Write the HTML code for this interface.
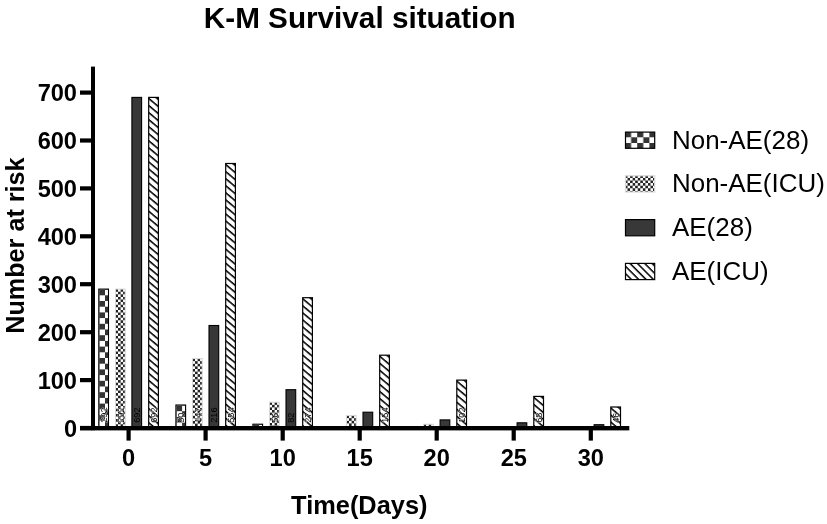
<!DOCTYPE html>
<html><head><meta charset="utf-8"><title>K-M Survival situation</title>
<style>
html,body{margin:0;padding:0;background:#fff;}
body{width:827px;height:524px;overflow:hidden;}
svg{display:block;font-family:"Liberation Sans",Arial,sans-serif;}
.b{font-weight:bold;}
</style></head><body>
<svg width="827" height="524" viewBox="0 0 827 524">
<defs>
<pattern id="p1" x="0.5" y="0.5" width="11.4" height="11.4" patternUnits="userSpaceOnUse">
<rect width="11.4" height="11.4" fill="#fff"/>
<rect x="0" y="0" width="5.7" height="5.7" fill="#333"/>
<rect x="5.7" y="5.7" width="5.7" height="5.7" fill="#333"/>
</pattern>
<pattern id="p2" x="0" y="0" width="5.1" height="5.2" patternUnits="userSpaceOnUse">
<rect width="5.1" height="5.2" fill="#fff"/>
<rect x="0" y="0" width="2.55" height="2.6" fill="#222"/>
<rect x="2.55" y="2.6" width="2.55" height="2.6" fill="#222"/>
</pattern>
<pattern id="p4" x="0" y="0" width="5.4" height="5.4" patternUnits="userSpaceOnUse" patternTransform="rotate(40)">
<rect width="5.4" height="5.4" fill="#fff"/>
<rect x="0" y="0" width="5.4" height="1.55" fill="#000"/>
</pattern>
<pattern id="l1" x="625" y="131.6" width="12.2" height="11.4" patternUnits="userSpaceOnUse">
<rect width="12.2" height="11.4" fill="#fff"/>
<rect x="0" y="0" width="6.1" height="5.7" fill="#333"/>
<rect x="6.1" y="5.7" width="6.1" height="5.7" fill="#333"/>
</pattern>
<pattern id="l2" x="625" y="175.3" width="5.1" height="5.2" patternUnits="userSpaceOnUse">
<rect width="5.1" height="5.2" fill="#fff"/>
<rect x="0" y="0" width="2.55" height="2.6" fill="#222"/>
<rect x="2.55" y="2.6" width="2.55" height="2.6" fill="#222"/>
</pattern>
<pattern id="l4" x="0" y="0" width="5.2" height="5.2" patternUnits="userSpaceOnUse" patternTransform="rotate(45)">
<rect width="5.2" height="5.2" fill="#fff"/>
<rect x="0" y="0" width="5.2" height="1.5" fill="#000"/>
</pattern>
</defs>
<rect width="827" height="524" fill="#fff"/>

<text class="b" x="359.7" y="27.6" font-size="29.7" text-anchor="middle" fill="#000">K-M Survival situation</text>
<text class="b" transform="translate(24.2,245.6) rotate(-90)" font-size="25.2" text-anchor="middle" fill="#000">Number at risk</text>
<text class="b" x="359.3" y="514" font-size="25.4" text-anchor="middle" fill="#000">Time(Days)</text>
<rect transform="translate(98.8,289.1)" width="9.7" height="138.9" fill="url(#p1)" stroke="#000" stroke-width="1.1"/>
<text transform="translate(107.0,422.8) rotate(-90)" font-size="9.2" fill="#000" stroke="#fff" stroke-width="0.6" paint-order="stroke">292</text>
<rect transform="translate(115.5,289.1)" width="9.7" height="138.9" fill="url(#p2)" stroke="#d8d8d8" stroke-width="1"/>
<text transform="translate(123.6,422.8) rotate(-90)" font-size="9.2" fill="#000" stroke="#fff" stroke-width="0.6" paint-order="stroke">292</text>
<rect transform="translate(131.9,97.4)" width="9.7" height="330.6" fill="#383838" stroke="#000" stroke-width="1.1"/>
<text transform="translate(140.1,422.8) rotate(-90)" font-size="9.2" fill="#000">692</text>
<rect transform="translate(148.7,97.4)" width="9.7" height="330.6" fill="url(#p4)" stroke="#000" stroke-width="1.2"/>
<text transform="translate(156.8,422.8) rotate(-90)" font-size="9.2" fill="#000" stroke="#fff" stroke-width="0.6" paint-order="stroke">692</text>
<rect transform="translate(175.9,405.0)" width="9.7" height="23.0" fill="url(#p1)" stroke="#000" stroke-width="1.1"/>
<text transform="translate(184.0,422.8) rotate(-90)" font-size="9.2" fill="#000" stroke="#fff" stroke-width="0.6" paint-order="stroke">50</text>
<rect transform="translate(192.5,358.6)" width="9.7" height="69.4" fill="url(#p2)" stroke="#d8d8d8" stroke-width="1"/>
<text transform="translate(200.6,422.8) rotate(-90)" font-size="9.2" fill="#000" stroke="#fff" stroke-width="0.6" paint-order="stroke">147</text>
<rect transform="translate(209.0,325.5)" width="9.7" height="102.5" fill="#383838" stroke="#000" stroke-width="1.1"/>
<text transform="translate(217.1,422.8) rotate(-90)" font-size="9.2" fill="#000">216</text>
<rect transform="translate(225.7,163.5)" width="9.7" height="264.5" fill="url(#p4)" stroke="#000" stroke-width="1.2"/>
<text transform="translate(233.8,422.8) rotate(-90)" font-size="9.2" fill="#000" stroke="#fff" stroke-width="0.6" paint-order="stroke">554</text>
<rect transform="translate(252.9,424.2)" width="9.7" height="3.8" fill="url(#p1)" stroke="#000" stroke-width="1.1"/>
<rect transform="translate(269.5,402.2)" width="9.7" height="25.8" fill="url(#p2)" stroke="#d8d8d8" stroke-width="1"/>
<text transform="translate(277.7,422.8) rotate(-90)" font-size="9.2" fill="#000" stroke="#fff" stroke-width="0.6" paint-order="stroke">56</text>
<rect transform="translate(286.0,389.7)" width="9.7" height="38.3" fill="#383838" stroke="#000" stroke-width="1.1"/>
<text transform="translate(294.2,422.8) rotate(-90)" font-size="9.2" fill="#000">82</text>
<rect transform="translate(302.7,297.7)" width="9.7" height="130.3" fill="url(#p4)" stroke="#000" stroke-width="1.2"/>
<text transform="translate(310.9,422.8) rotate(-90)" font-size="9.2" fill="#000" stroke="#fff" stroke-width="0.6" paint-order="stroke">274</text>
<rect transform="translate(346.5,415.6)" width="9.7" height="12.4" fill="url(#p2)" stroke="#d8d8d8" stroke-width="1"/>
<rect transform="translate(363.0,412.2)" width="9.7" height="15.8" fill="#383838" stroke="#000" stroke-width="1.1"/>
<rect transform="translate(379.7,355.2)" width="9.7" height="72.8" fill="url(#p4)" stroke="#000" stroke-width="1.2"/>
<text transform="translate(387.9,422.8) rotate(-90)" font-size="9.2" fill="#000" stroke="#fff" stroke-width="0.6" paint-order="stroke">154</text>
<rect transform="translate(423.6,424.2)" width="9.7" height="3.8" fill="url(#p2)" stroke="#d8d8d8" stroke-width="1"/>
<rect transform="translate(440.1,419.9)" width="9.7" height="8.1" fill="#383838" stroke="#000" stroke-width="1.1"/>
<rect transform="translate(456.8,380.1)" width="9.7" height="47.9" fill="url(#p4)" stroke="#000" stroke-width="1.2"/>
<text transform="translate(464.9,422.8) rotate(-90)" font-size="9.2" fill="#000" stroke="#fff" stroke-width="0.6" paint-order="stroke">102</text>
<rect transform="translate(517.1,422.8)" width="9.7" height="5.2" fill="#383838" stroke="#000" stroke-width="1.1"/>
<rect transform="translate(533.8,396.4)" width="9.7" height="31.6" fill="url(#p4)" stroke="#000" stroke-width="1.2"/>
<text transform="translate(541.9,422.8) rotate(-90)" font-size="9.2" fill="#000" stroke="#fff" stroke-width="0.6" paint-order="stroke">68</text>
<rect transform="translate(594.1,424.7)" width="9.7" height="3.3" fill="#383838" stroke="#000" stroke-width="1.1"/>
<rect transform="translate(610.8,407.0)" width="9.7" height="21.0" fill="url(#p4)" stroke="#000" stroke-width="1.2"/>
<text transform="translate(619.0,422.8) rotate(-90)" font-size="9.2" fill="#000" stroke="#fff" stroke-width="0.6" paint-order="stroke">46</text>
<rect x="91" y="66.6" width="4" height="363.6" fill="#000"/>
<rect x="80" y="426.0" width="549.3" height="4.4" fill="#000"/>
<rect x="80" y="425.9" width="12" height="4.2" fill="#000"/>
<text class="b" x="77" y="436.5" font-size="23.6" text-anchor="end" fill="#000">0</text>
<rect x="80" y="378.0" width="12" height="4.2" fill="#000"/>
<text class="b" x="77" y="388.6" font-size="23.6" text-anchor="end" fill="#000">100</text>
<rect x="80" y="330.1" width="12" height="4.2" fill="#000"/>
<text class="b" x="77" y="340.7" font-size="23.6" text-anchor="end" fill="#000">200</text>
<rect x="80" y="282.1" width="12" height="4.2" fill="#000"/>
<text class="b" x="77" y="292.7" font-size="23.6" text-anchor="end" fill="#000">300</text>
<rect x="80" y="234.2" width="12" height="4.2" fill="#000"/>
<text class="b" x="77" y="244.8" font-size="23.6" text-anchor="end" fill="#000">400</text>
<rect x="80" y="186.3" width="12" height="4.2" fill="#000"/>
<text class="b" x="77" y="196.9" font-size="23.6" text-anchor="end" fill="#000">500</text>
<rect x="80" y="138.4" width="12" height="4.2" fill="#000"/>
<text class="b" x="77" y="149.0" font-size="23.6" text-anchor="end" fill="#000">600</text>
<rect x="80" y="90.5" width="12" height="4.2" fill="#000"/>
<text class="b" x="77" y="101.1" font-size="23.6" text-anchor="end" fill="#000">700</text>
<rect x="126.5" y="428.0" width="4.2" height="12.6" fill="#000"/>
<text class="b" x="128.6" y="465.5" font-size="23.6" text-anchor="middle" fill="#000">0</text>
<rect x="203.5" y="428.0" width="4.2" height="12.6" fill="#000"/>
<text class="b" x="205.6" y="465.5" font-size="23.6" text-anchor="middle" fill="#000">5</text>
<rect x="280.6" y="428.0" width="4.2" height="12.6" fill="#000"/>
<text class="b" x="282.7" y="465.5" font-size="23.6" text-anchor="middle" fill="#000">10</text>
<rect x="357.6" y="428.0" width="4.2" height="12.6" fill="#000"/>
<text class="b" x="359.7" y="465.5" font-size="23.6" text-anchor="middle" fill="#000">15</text>
<rect x="434.6" y="428.0" width="4.2" height="12.6" fill="#000"/>
<text class="b" x="436.7" y="465.5" font-size="23.6" text-anchor="middle" fill="#000">20</text>
<rect x="511.6" y="428.0" width="4.2" height="12.6" fill="#000"/>
<text class="b" x="513.8" y="465.5" font-size="23.6" text-anchor="middle" fill="#000">25</text>
<rect x="588.7" y="428.0" width="4.2" height="12.6" fill="#000"/>
<text class="b" x="590.8" y="465.5" font-size="23.6" text-anchor="middle" fill="#000">30</text>
<rect x="625.5" y="132.1" width="29.2" height="16.2" fill="url(#l1)" stroke="#000" stroke-width="1.2"/>
<text transform="translate(672,148.7) scale(1.03,1)" font-size="25.2" fill="#000">Non-AE(28)</text>
<rect x="625.5" y="175.8" width="29.2" height="16.2" fill="url(#l2)" stroke="#d8d8d8" stroke-width="1.2"/>
<text transform="translate(672,192.4) scale(1.03,1)" font-size="25.2" fill="#000">Non-AE(ICU)</text>
<rect x="625.5" y="219.6" width="29.2" height="16.2" fill="#383838" stroke="#000" stroke-width="1.2"/>
<text transform="translate(672,236.2) scale(1.03,1)" font-size="25.2" fill="#000">AE(28)</text>
<rect x="625.5" y="263.4" width="29.2" height="16.2" fill="url(#l4)" stroke="#000" stroke-width="1.2"/>
<text transform="translate(672,280.0) scale(1.03,1)" font-size="25.2" fill="#000">AE(ICU)</text>
</svg></body></html>
